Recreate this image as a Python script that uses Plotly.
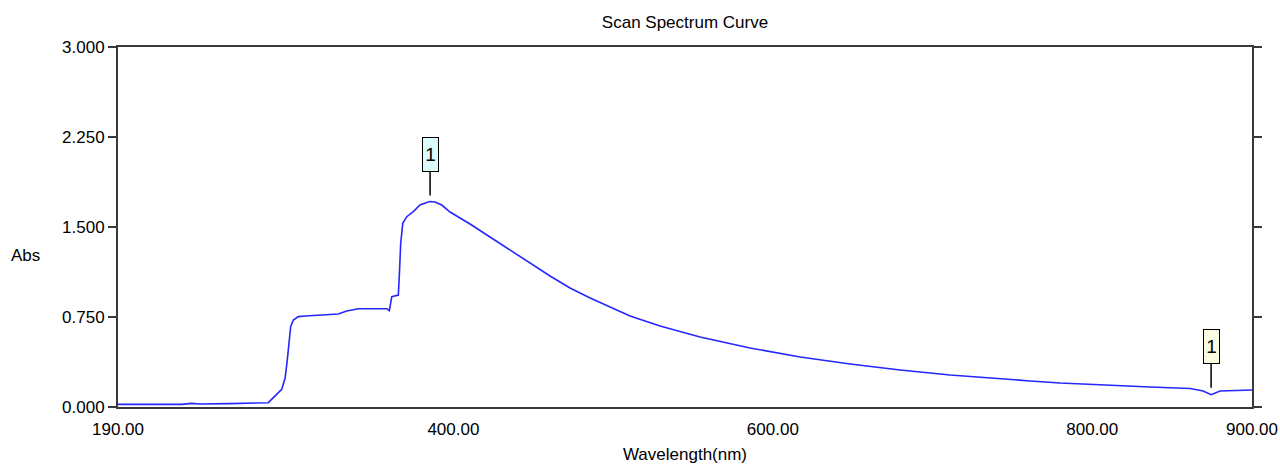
import plotly.graph_objects as go
import numpy as np

# Wavelength (nm) and absorbance
wavelength = [190.0, 210.0, 230.0, 236.0, 241.0, 260.0, 280.0, 284.1, 292.5, 294.6, 296.0, 297.3,
              298.1, 299.8, 302.9, 307.1, 318.6, 327.9, 333.2, 340.5, 358.3, 359.9, 361.4,
              365.5, 366.1, 367.0, 368.3, 370.8, 374.9, 379.1, 383.3, 385.4, 388.5, 392.7,
              397.9, 410.4, 422.9, 435.5, 448.0, 460.5, 473.0, 485.6, 498.1, 510.6, 529.4,
              554.4, 585.7, 617.1, 648.4, 679.7, 711.0, 742.3, 761.1, 779.9, 804.9, 836.2,
              861.3, 869.4, 874.4, 880.0, 900.0]
absorbance = [0.022, 0.022, 0.022, 0.030, 0.025, 0.028, 0.032, 0.036, 0.148, 0.239, 0.392, 0.558,
              0.669, 0.725, 0.753, 0.758, 0.767, 0.775, 0.800, 0.819, 0.819, 0.803, 0.919,
              0.933, 1.086, 1.364, 1.531, 1.586, 1.628, 1.683, 1.705, 1.712, 1.708, 1.683,
              1.625, 1.525, 1.417, 1.308, 1.200, 1.092, 0.992, 0.908, 0.833, 0.758, 0.675,
              0.583, 0.492, 0.417, 0.358, 0.308, 0.267, 0.233, 0.217, 0.200, 0.183, 0.167,
              0.154, 0.133, 0.103, 0.133, 0.142]

x_ticks = [190, 400, 600, 800, 900]
y_ticks = [0.0, 0.75, 1.5, 2.25, 3.0]

peak_labels = ["1", "1"]

FONT = "Liberation Sans, Arial, sans-serif"
FS = 17
AXIS_COLOR = "#3a3a3a"

wl = np.array(wavelength)
ab = np.array(absorbance)
i_peak = int(np.argmax(ab))
tail = np.where(wl > 850)[0]
i_valley = int(tail[np.argmin(ab[tail])])

fig = go.Figure()
fig.add_trace(go.Scatter(x=wavelength, y=absorbance, mode="lines",
                         line=dict(color="#2626ff", width=1.6), hoverinfo="x+y",
                         showlegend=False))

fig.add_annotation(x=wl[i_peak], y=ab[i_peak], text=peak_labels[0], showarrow=True,
                   ax=0, ay=-47, arrowhead=0, arrowwidth=1.5, arrowcolor="#000000",
                   standoff=6, bgcolor="#dcfbfb", bordercolor="#000000", borderwidth=1,
                   borderpad=1, width=13, height=31, font=dict(family=FONT, size=19, color="#000"))
fig.add_annotation(x=wl[i_valley], y=ab[i_valley], text=peak_labels[1], showarrow=True,
                   ax=0, ay=-48, arrowhead=0, arrowwidth=1.5, arrowcolor="#000000",
                   standoff=7, bgcolor="#fbfbe2", bordercolor="#000000", borderwidth=1,
                   borderpad=1, width=13, height=31, font=dict(family=FONT, size=19, color="#000"))

fig.add_annotation(x=-0.082, y=0.42, xref="paper", yref="paper", text="Abs", showarrow=False,
                   xanchor="center", yanchor="middle", font=dict(family=FONT, size=FS, color="#000"))

fig.update_layout(
    width=1280, height=466,
    margin=dict(l=118, r=28, t=47, b=59, autoexpand=False),
    paper_bgcolor="white", plot_bgcolor="white",
    font=dict(family=FONT, size=FS, color="#000000"),
    title=dict(text="Scan Spectrum Curve", x=0.5, xref="paper", xanchor="center",
               y=1 - 22 / 466, yref="container", yanchor="middle",
               font=dict(family=FONT, size=FS, color="#000")),
    xaxis=dict(range=[190, 900], tickvals=x_ticks, tickformat=".2f", ticks="",
               ticklabeloverflow="allow", ticklabelstandoff=6, automargin=False,
               showline=True, mirror=True, linecolor=AXIS_COLOR, linewidth=2,
               showgrid=False, zeroline=False,
               title=dict(text="Wavelength(nm)", standoff=10,
                          font=dict(family=FONT, size=FS, color="#000"))),
    yaxis=dict(range=[0, 3], tickvals=y_ticks, tickformat=".3f", ticks="outside",
               ticklen=8, tickwidth=2, tickcolor=AXIS_COLOR, automargin=False,
               showline=True, mirror="ticks", linecolor=AXIS_COLOR, linewidth=2,
               showgrid=False, zeroline=False),
)

fig.write_html("out.html")
